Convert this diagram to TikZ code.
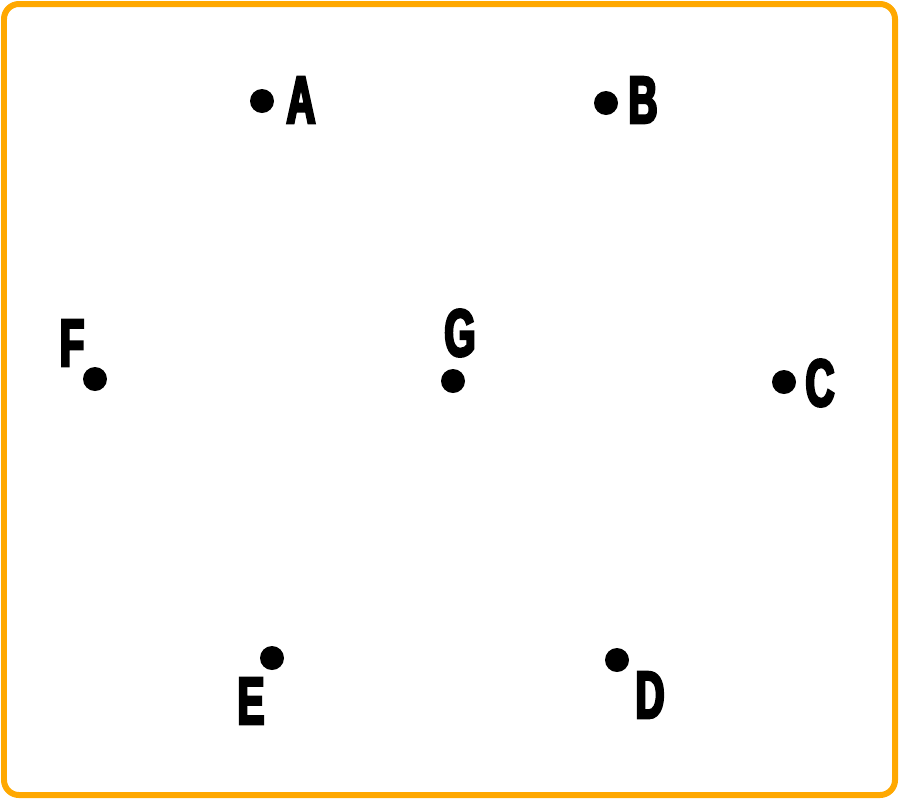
\documentclass[tikz,border=0pt]{standalone}
\usepackage{fontspec}
\setmainfont{Liberation Sans}
\newfontfamily\heavy{Liberation Sans}[UprightFont=* Bold,FakeStretch=0.6,FakeBold=4]
\definecolor{frame}{HTML}{FFA800}
\tikzset{
  pt/.style={circle,fill=black,inner sep=0pt,minimum size=0.48cm},
  lbl/.style={inner sep=0pt,font=\heavy\fontsize{38}{38}\selectfont},
}
\begin{document}
\begin{tikzpicture}[x=0.02cm,y=-0.02cm]
\useasboundingbox (0,0) rectangle (899,799);
\draw[frame,line width=0.12cm,rounded corners=0.3cm] (4,4) rectangle (895,795);
\node[pt] (A) at (262,101) {};
\node[pt] (B) at (606,103) {};
\node[pt] (C) at (784,382) {};
\node[pt] (D) at (617,660) {};
\node[pt] (E) at (272,658) {};
\node[pt] (F) at (95,379) {};
\node[pt] (G) at (453,381) {};
\node[lbl] (lA) at (301,100) {A};
\node[lbl] (lB) at (643,100) {B};
\node[lbl] (lC) at (820,383) {C};
\node[lbl] (lD) at (650,695) {D};
\node[lbl] (lE) at (251,701) {E};
\node[lbl] (lF) at (72,343) {F};
\node[lbl] (lG) at (460,333) {G};
\end{tikzpicture}
\end{document}
